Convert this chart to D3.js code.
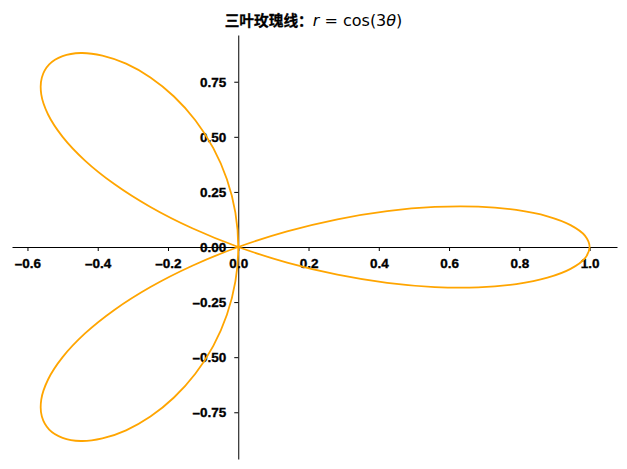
<!DOCTYPE html>
<html>
<head>
<meta charset="utf-8">
<script src="https://cdn.jsdelivr.net/npm/d3@7"></script>
<style>
  body { margin: 0; background: #fff; }
  .axis text { font-family: "Liberation Sans", Arial, sans-serif; font-weight: bold; font-size: 13.5px;
               fill: #000; stroke: #000; stroke-width: 0.35; }
  .axis path, .axis line { stroke: #000; stroke-width: 1; }
  .title .cjk { font-family: "Noto Sans CJK SC", sans-serif; font-weight: bold; font-size: 14.7px;
                stroke: #000; stroke-width: 0.3; }
  .title .math { font-family: "DejaVu Sans", sans-serif; font-size: 16px; }
</style>
</head>
<body>
<svg id="chart" width="627" height="469"></svg>
<script>
// polar samples of the rose, every 3 degrees over half a turn (the curve closes at 180)
const thetaDeg = [0, 3, 6, 9, 12, 15, 18, 21, 24, 27, 30, 33, 36, 39, 42, 45, 48, 51, 54, 57,
                  60, 63, 66, 69, 72, 75, 78, 81, 84, 87, 90, 93, 96, 99, 102, 105, 108, 111, 114, 117,
                  120, 123, 126, 129, 132, 135, 138, 141, 144, 147, 150, 153, 156, 159, 162, 165, 168, 171, 174, 177];
const radius = [1.000, 0.988, 0.951, 0.891, 0.809, 0.707, 0.588, 0.454, 0.309, 0.156,
                0.000, -0.156, -0.309, -0.454, -0.588, -0.707, -0.809, -0.891, -0.951, -0.988,
                -1.000, -0.988, -0.951, -0.891, -0.809, -0.707, -0.588, -0.454, -0.309, -0.156,
                0.000, 0.156, 0.309, 0.454, 0.588, 0.707, 0.809, 0.891, 0.951, 0.988,
                1.000, 0.988, 0.951, 0.891, 0.809, 0.707, 0.588, 0.454, 0.309, 0.156,
                0.000, -0.156, -0.309, -0.454, -0.588, -0.707, -0.809, -0.891, -0.951, -0.988];
const xTicks = [-0.6, -0.4, -0.2, 0.0, 0.2, 0.4, 0.6, 0.8, 1.0];
const yTicks = [-0.75, -0.50, -0.25, 0.00, 0.25, 0.50, 0.75];

const width = 627, height = 469;
const plot = { left: 12, right: 617, top: 35, bottom: 459 };

const points = thetaDeg.map((t, i) => {
  let a = t * Math.PI / 180;
  return [radius[i] * Math.cos(a), radius[i] * Math.sin(a)];
});

const xScale = d3.scaleLinear([-0.644, 1.078], [plot.left, plot.right]);
const yScale = d3.scaleLinear([-0.962, 0.962], [plot.bottom, plot.top]);

const svg = d3.select('#chart');

// spines crossing at zero
svg.append('g')
   .attr('class', 'axis x-axis')
   .attr('transform', `translate(0,${yScale(0)})`)
   .call(d3.axisBottom(xScale)
           .tickValues(xTicks)
           .tickSize(4)
           .tickPadding(7.5)
           .tickSizeOuter(0)
           .tickFormat(d3.format('.1f')));

svg.append('g')
   .attr('class', 'axis y-axis')
   .attr('transform', `translate(${xScale(0)},0)`)
   .call(d3.axisLeft(yScale)
           .tickValues(yTicks)
           .tickSize(4)
           .tickPadding(8)
           .tickSizeOuter(0)
           .tickFormat(d3.format('.2f')));

svg.selectAll('.axis text').text(function() {
  return d3.select(this).text().replace('−', '\u2013');
});

const line = d3.line()
               .x(d => xScale(d[0]))
               .y(d => yScale(d[1]))
               .curve(d3.curveCatmullRomClosed.alpha(0.5));

svg.append('path')
   .datum(points)
   .attr('fill', 'none')
   .attr('stroke', '#FFA500')
   .attr('stroke-width', 1.8)
   .attr('d', line);

const title = svg.append('text')
                 .attr('class', 'title')
                 .attr('x', width / 2)
                 .attr('y', 26)
                 .attr('text-anchor', 'middle');
title.append('tspan').attr('class', 'cjk').text('三叶玫瑰线：');
title.append('tspan').attr('class', 'math').attr('font-style', 'italic').text('r');
title.append('tspan').attr('class', 'math').text(' = cos(3');
title.append('tspan').attr('class', 'math').attr('font-style', 'italic').text('θ');
title.append('tspan').attr('class', 'math').text(')');
</script>
</body>
</html>
